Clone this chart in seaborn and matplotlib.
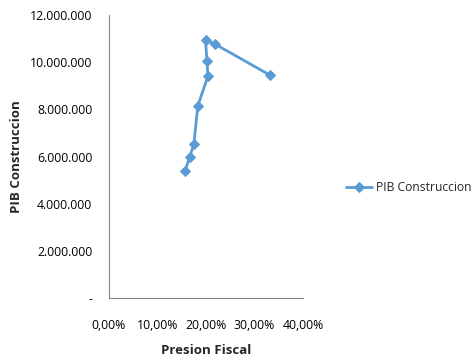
import matplotlib
matplotlib.use("Agg")
import matplotlib.pyplot as plt
import matplotlib.ticker as mticker
import seaborn as sns
import pandas as pd

presion = [15.7, 16.6, 17.5, 18.3, 20.4, 20.2, 19.9, 21.9, 33.2]
pib = [5390000, 5960000, 6510000, 8140000, 9410000, 10040000, 10930000, 10760000, 9450000]
x_ticks = [0, 10, 20, 30, 40]
y_ticks = [0, 2000000, 4000000, 6000000, 8000000, 10000000, 12000000]
series_name = "PIB Construccion"

df = pd.DataFrame({"Presion Fiscal": presion, "PIB": pib, "serie": series_name})

sns.set_style("white")
plt.rcParams['font.family'] = ['Open Sans', 'DejaVu Sans']
fs = 8.8

fig = plt.figure(figsize=(4.75, 3.64), dpi=100)
ax = fig.add_axes([109/475, 1 - 298/364, (303-109)/475, (298-15)/364])

color = "#5B9BD5"
sns.lineplot(data=df, x="Presion Fiscal", y="PIB", hue="serie", palette=[color],
             sort=False, estimator=None, marker="D", markersize=5, linewidth=2,
             markeredgecolor=color, ax=ax)

ax.set_xlim(0, 40)
ax.set_ylim(0, 12000000)
ax.set_xticks(x_ticks)
ax.set_yticks(y_ticks)

def xfmt(v, pos):
    return f"{v:.2f}".replace(".", ",") + "%"

def yfmt(v, pos):
    if v == 0:
        return "-"
    return f"{int(v):,}".replace(",", ".")

ax.xaxis.set_major_formatter(mticker.FuncFormatter(xfmt))
ax.yaxis.set_major_formatter(mticker.FuncFormatter(yfmt))

for s in ["top", "right"]:
    ax.spines[s].set_visible(False)
for s in ["left", "bottom"]:
    ax.spines[s].set_color("#868686")
    ax.spines[s].set_linewidth(0.8)

ax.tick_params(axis="both", which="major", direction="out", length=4, width=0.8,
               color="#868686", labelsize=fs, labelcolor="#000000", pad=8)
ax.tick_params(axis="x", pad=11)

ax.set_xlabel("Presion Fiscal", fontsize=9.5, fontweight="bold")
ax.set_ylabel("PIB Construccion", fontsize=9.5, fontweight="bold")
ax.xaxis.set_label_coords(0.5, (298 - 350) / 283, transform=ax.transAxes)
ax.yaxis.set_label_coords((17 - 109) / 194, 0.5, transform=ax.transAxes)
ax.xaxis.label.set_va("center")
ax.yaxis.label.set_va("center")

ax.legend(loc="center left", bbox_to_anchor=(1.165, 0.39), frameon=False,
          fontsize=8.7, handlelength=2.2, handletextpad=0.3)

fig.savefig("out.png", dpi=100)
